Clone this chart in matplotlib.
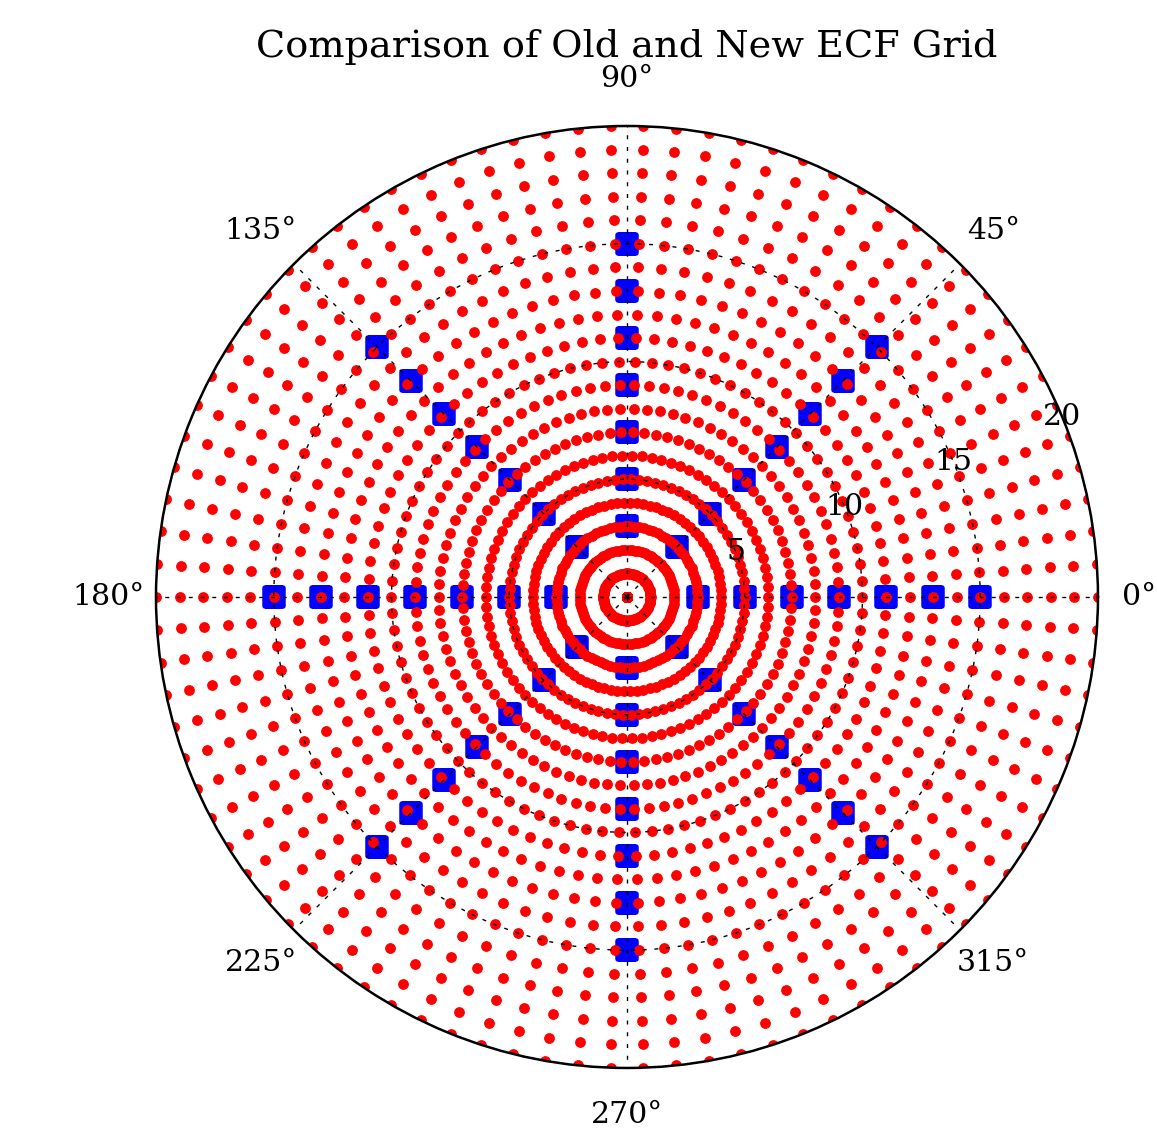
import numpy as np
import matplotlib
matplotlib.use('Agg')
import matplotlib.pyplot as plt
from matplotlib.markers import MarkerStyle

# new ECF grid: rings (radius) with a fixed number of azimuths per ring
new_radii = [0, 1, 2, 3, 4, 5, 6, 7, 8, 9, 10, 11, 12, 13, 14, 15, 16, 17, 18, 19, 20]
new_n_azimuth = 90  # 4 degree steps, starting at 0

# old ECF grid: a few radii along 8 directions
old_radii = [3, 5, 7, 9, 11, 13, 15]
old_azimuth_deg = [0, 45, 90, 135, 180, 225, 270, 315]

theta_ticks = [0, 45, 90, 135, 180, 225, 270, 315]
theta_labels = ['0°', '45°', '90°', '135°', '180°', '225°', '270°', '315°']
r_ticks = [5, 10, 15, 20]
r_max = 20

title = 'Comparison of Old and New ECF Grid'

plt.rcParams['font.family'] = ['DejaVu Serif']
plt.rcParams['lines.scale_dashes'] = False

fig = plt.figure(figsize=(1157 / 180, 1130 / 180), dpi=180, facecolor='white')
ax = fig.add_axes([0.1348, 0.0549, 0.8142, 0.8336], projection='polar')

# old grid
tt, rr = np.meshgrid(np.deg2rad(old_azimuth_deg), old_radii)
ax.plot(tt.ravel(), rr.ravel(), linestyle='none',
        marker=MarkerStyle('s', joinstyle='round'), markersize=7.0,
        color='blue', markeredgecolor='blue', markeredgewidth=2.2)

# new grid
az = np.arange(new_n_azimuth) * 2 * np.pi / new_n_azimuth
tt, rr = np.meshgrid(az, new_radii)
ax.plot(tt.ravel(), rr.ravel(), linestyle='none', marker='o', markersize=3.8,
        color='red', markeredgecolor='red', markeredgewidth=0.5)

ax.set_ylim(0, r_max)
ax.set_xticks(np.deg2rad(theta_ticks))
ax.set_xticklabels([])
ax.set_yticks(r_ticks)
ax.set_yticklabels([])
ax.set_axisbelow(False)
ax.grid(True, color='k', linestyle=(0, (1.6, 3.1)), linewidth=0.55)
ax.spines['polar'].set_linewidth(1.0)
ax.tick_params(length=0)

for a, lab in zip(theta_ticks, theta_labels):
    # the 0° label sits a bit closer so it stays inside the figure
    rad = r_max * (1.088 if a == 0 else 1.1)
    ax.text(np.deg2rad(a), rad, lab, ha='center', va='center',
            fontsize=12, clip_on=False)
for r in r_ticks:
    ax.text(np.deg2rad(22.5), r, str(r), ha='center', va='center', fontsize=12)

ax.set_title(title, fontsize=15.3, y=1.073, pad=0)

fig.savefig('out.png', dpi=180, facecolor='white')
